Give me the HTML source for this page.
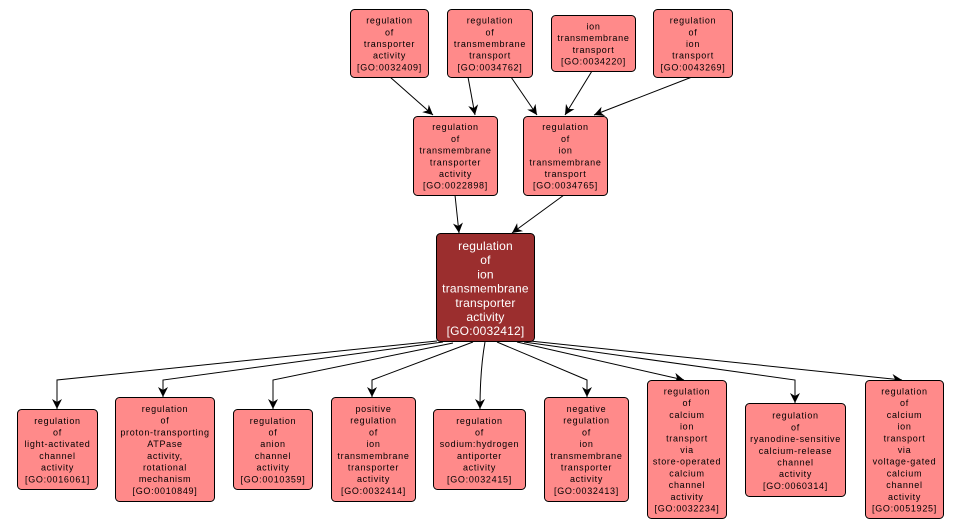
<!DOCTYPE html>
<html><head><meta charset="utf-8"><style>
html,body{margin:0;padding:0;background:#fff;}
svg{display:block;}
.n{fill:#ff8a8a;stroke:#000;stroke-width:1;}
.c{fill:#9b2e2e;stroke:#000;stroke-width:1;}
.t{font-family:"Liberation Sans",Arial,sans-serif;font-size:9px;letter-spacing:0.7px;fill:#000;text-anchor:middle;}
.tc{font-family:"Liberation Sans",Arial,sans-serif;font-size:12px;letter-spacing:0.2px;fill:#fff;text-anchor:middle;}
.e{fill:none;stroke:#000;stroke-width:1;marker-end:url(#a);}
</style></head><body>
<svg width="961" height="529" viewBox="0 0 961 529" xmlns="http://www.w3.org/2000/svg">
<defs>
<marker id="a" markerUnits="userSpaceOnUse" markerWidth="12" markerHeight="12" refX="10" refY="5" orient="auto" viewBox="0 0 12 10">
<path d="M0,0 L10,5 L0,10 L3,5 z" fill="#000"/>
</marker>
</defs>

<!-- edges top -->
<path class="e" d="M390,77 L433,115"/>
<path class="e" d="M468,77 L475,115"/>
<path class="e" d="M511,77 L537,115"/>
<path class="e" d="M592,71 L565,115"/>
<path class="e" d="M692,77 L594,115"/>
<path class="e" d="M455,195 L459,233"/>
<path class="e" d="M564,195 L512,233"/>

<!-- edges bottom -->
<path class="e" d="M437,341 L57,380 L57,409"/>
<path class="e" d="M443,342 L163,380 L163,397"/>
<path class="e" d="M453,343 L273,380 L273,409"/>
<path class="e" d="M473,342 L372,380 L372,397"/>
<path class="e" d="M485,342 Q480,370 480,409"/>
<path class="e" d="M497,342 L587,380 L587,397"/>
<path class="e" d="M517,342 L684,380"/>
<path class="e" d="M524,342 L795,380 L795,403"/>
<path class="e" d="M530,341 L902,380"/>

<!-- top row -->
<rect class="n" x="350.5" y="9.5" width="78" height="68" rx="4"/>
<text class="t" x="389.5"><tspan x="389.5" y="23.6">regulation</tspan><tspan x="389.5" y="35.3">of</tspan><tspan x="389.5" y="47">transporter</tspan><tspan x="389.5" y="58.7">activity</tspan><tspan x="389.5" y="70.4">[GO:0032409]</tspan></text>

<rect class="n" x="447.5" y="9.5" width="85" height="68" rx="4"/>
<text class="t"><tspan x="490" y="23.6">regulation</tspan><tspan x="490" y="35.3">of</tspan><tspan x="490" y="47">transmembrane</tspan><tspan x="490" y="58.7">transport</tspan><tspan x="490" y="70.4">[GO:0034762]</tspan></text>

<rect class="n" x="551.5" y="15.5" width="84" height="56" rx="4"/>
<text class="t"><tspan x="593.5" y="29.5">ion</tspan><tspan x="593.5" y="41.2">transmembrane</tspan><tspan x="593.5" y="52.9">transport</tspan><tspan x="593.5" y="64.6">[GO:0034220]</tspan></text>

<rect class="n" x="653.5" y="9.5" width="79" height="68" rx="4"/>
<text class="t"><tspan x="693" y="23.6">regulation</tspan><tspan x="693" y="35.3">of</tspan><tspan x="693" y="47">ion</tspan><tspan x="693" y="58.7">transport</tspan><tspan x="693" y="70.4">[GO:0043269]</tspan></text>

<!-- second row -->
<rect class="n" x="413.5" y="116.5" width="84" height="79" rx="4"/>
<text class="t"><tspan x="455.5" y="130.2">regulation</tspan><tspan x="455.5" y="141.9">of</tspan><tspan x="455.5" y="153.6">transmembrane</tspan><tspan x="455.5" y="165.3">transporter</tspan><tspan x="455.5" y="177">activity</tspan><tspan x="455.5" y="188.7">[GO:0022898]</tspan></text>

<rect class="n" x="523.5" y="116.5" width="84" height="79" rx="4"/>
<text class="t"><tspan x="565.5" y="130.2">regulation</tspan><tspan x="565.5" y="141.9">of</tspan><tspan x="565.5" y="153.6">ion</tspan><tspan x="565.5" y="165.3">transmembrane</tspan><tspan x="565.5" y="177">transport</tspan><tspan x="565.5" y="188.7">[GO:0034765]</tspan></text>

<!-- center -->
<rect class="c" x="436.5" y="233.5" width="98" height="108" rx="4"/>
<text class="tc"><tspan x="485.5" y="250">regulation</tspan><tspan x="485.5" y="264.2">of</tspan><tspan x="485.5" y="278.4">ion</tspan><tspan x="485.5" y="292.6">transmembrane</tspan><tspan x="485.5" y="306.8">transporter</tspan><tspan x="485.5" y="321">activity</tspan><tspan x="485.5" y="335.2">[GO:0032412]</tspan></text>

<!-- bottom row -->
<rect class="n" x="17.5" y="409.5" width="80" height="80" rx="4"/>
<text class="t"><tspan x="57.5" y="423.8">regulation</tspan><tspan x="57.5" y="435.5">of</tspan><tspan x="57.5" y="447.2">light-activated</tspan><tspan x="57.5" y="458.9">channel</tspan><tspan x="57.5" y="470.6">activity</tspan><tspan x="57.5" y="482.3">[GO:0016061]</tspan></text>

<rect class="n" x="115.5" y="397.5" width="99" height="104" rx="4"/>
<text class="t"><tspan x="165" y="412">regulation</tspan><tspan x="165" y="423.7">of</tspan><tspan x="165" y="435.4">proton-transporting</tspan><tspan x="165" y="447.1">ATPase</tspan><tspan x="165" y="458.8">activity,</tspan><tspan x="165" y="470.5">rotational</tspan><tspan x="165" y="482.2">mechanism</tspan><tspan x="165" y="493.9">[GO:0010849]</tspan></text>

<rect class="n" x="233.5" y="409.5" width="79" height="80" rx="4"/>
<text class="t"><tspan x="273" y="423.8">regulation</tspan><tspan x="273" y="435.5">of</tspan><tspan x="273" y="447.2">anion</tspan><tspan x="273" y="458.9">channel</tspan><tspan x="273" y="470.6">activity</tspan><tspan x="273" y="482.3">[GO:0010359]</tspan></text>

<rect class="n" x="331.5" y="397.5" width="84" height="104" rx="4"/>
<text class="t"><tspan x="373.5" y="412">positive</tspan><tspan x="373.5" y="423.7">regulation</tspan><tspan x="373.5" y="435.4">of</tspan><tspan x="373.5" y="447.1">ion</tspan><tspan x="373.5" y="458.8">transmembrane</tspan><tspan x="373.5" y="470.5">transporter</tspan><tspan x="373.5" y="482.2">activity</tspan><tspan x="373.5" y="493.9">[GO:0032414]</tspan></text>

<rect class="n" x="433.5" y="409.5" width="92" height="80" rx="4"/>
<text class="t"><tspan x="479.5" y="423.8">regulation</tspan><tspan x="479.5" y="435.5">of</tspan><tspan x="479.5" y="447.2">sodium:hydrogen</tspan><tspan x="479.5" y="458.9">antiporter</tspan><tspan x="479.5" y="470.6">activity</tspan><tspan x="479.5" y="482.3">[GO:0032415]</tspan></text>

<rect class="n" x="544.5" y="397.5" width="84" height="104" rx="4"/>
<text class="t"><tspan x="586.5" y="412">negative</tspan><tspan x="586.5" y="423.7">regulation</tspan><tspan x="586.5" y="435.4">of</tspan><tspan x="586.5" y="447.1">ion</tspan><tspan x="586.5" y="458.8">transmembrane</tspan><tspan x="586.5" y="470.5">transporter</tspan><tspan x="586.5" y="482.2">activity</tspan><tspan x="586.5" y="493.9">[GO:0032413]</tspan></text>

<rect class="n" x="647.5" y="380.5" width="79" height="138" rx="4"/>
<text class="t"><tspan x="687" y="394.5">regulation</tspan><tspan x="687" y="406.2">of</tspan><tspan x="687" y="417.9">calcium</tspan><tspan x="687" y="429.6">ion</tspan><tspan x="687" y="441.3">transport</tspan><tspan x="687" y="453">via</tspan><tspan x="687" y="464.7">store-operated</tspan><tspan x="687" y="476.4">calcium</tspan><tspan x="687" y="488.1">channel</tspan><tspan x="687" y="499.8">activity</tspan><tspan x="687" y="511.5">[GO:0032234]</tspan></text>

<rect class="n" x="745.5" y="403.5" width="100" height="93" rx="4"/>
<text class="t"><tspan x="795.5" y="418.7">regulation</tspan><tspan x="795.5" y="430.4">of</tspan><tspan x="795.5" y="442.1">ryanodine-sensitive</tspan><tspan x="795.5" y="453.8">calcium-release</tspan><tspan x="795.5" y="465.5">channel</tspan><tspan x="795.5" y="477.2">activity</tspan><tspan x="795.5" y="488.9">[GO:0060314]</tspan></text>

<rect class="n" x="865.5" y="380.5" width="78" height="138" rx="4"/>
<text class="t"><tspan x="904.5" y="394.5">regulation</tspan><tspan x="904.5" y="406.2">of</tspan><tspan x="904.5" y="417.9">calcium</tspan><tspan x="904.5" y="429.6">ion</tspan><tspan x="904.5" y="441.3">transport</tspan><tspan x="904.5" y="453">via</tspan><tspan x="904.5" y="464.7">voltage-gated</tspan><tspan x="904.5" y="476.4">calcium</tspan><tspan x="904.5" y="488.1">channel</tspan><tspan x="904.5" y="499.8">activity</tspan><tspan x="904.5" y="511.5">[GO:0051925]</tspan></text>
</svg>
</body></html>
